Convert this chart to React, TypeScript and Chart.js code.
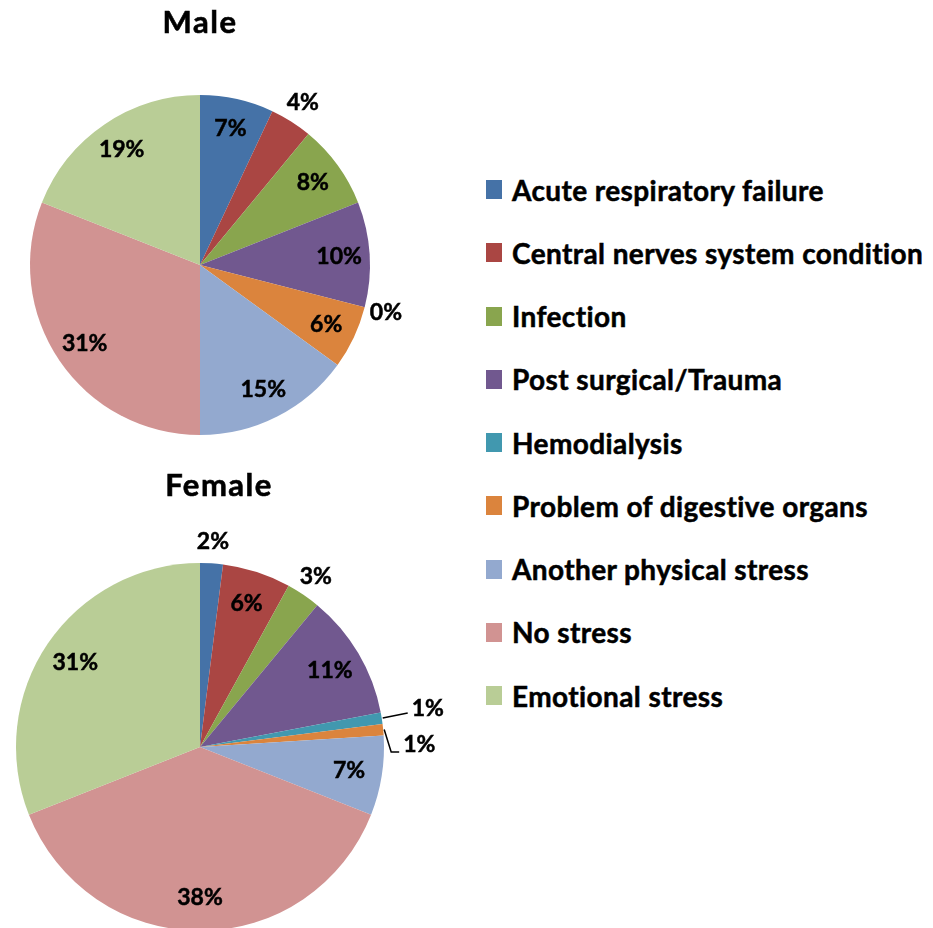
import React, { useEffect, useRef } from "react";
import { Chart, registerables } from "chart.js";

Chart.register(...registerables);

const CATEGORIES = [
  "Acute respiratory failure",
  "Central nerves system condition",
  "Infection",
  "Post surgical/Trauma",
  "Hemodialysis",
  "Problem of digestive organs",
  "Another physical stress",
  "No stress",
  "Emotional stress",
];
const MALE_VALUES = [7, 4, 8, 10, 0, 6, 15, 31, 19];
const FEMALE_VALUES = [2, 6, 3, 11, 1, 1, 7, 38, 31];
const COLORS = [
  "#4572A7",
  "#AA4643",
  "#89A54E",
  "#71588F",
  "#4198AF",
  "#DB843D",
  "#93A9CF",
  "#D19392",
  "#B9CD96",
];
const TITLES = ["Male", "Female"];

const FONT = "Lato, 'Open Sans', sans-serif";

function boldText(ctx: CanvasRenderingContext2D, text: string, x: number, y: number) {
  ctx.strokeText(text, x, y);
  ctx.fillText(text, x, y);
}

const pieTitlePlugin = {
  id: "pieTitle",
  afterDraw(chart: any, _args: any, opts: any) {
    const ctx = chart.ctx;
    const ca = chart.chartArea;
    ctx.save();
    ctx.font = `bold ${opts.fontSize}px ${FONT}`;
    (ctx as any).letterSpacing = `${opts.letterSpacing}px`;
    ctx.fillStyle = "#000";
    ctx.strokeStyle = "#000";
    ctx.lineWidth = 0.6;
    ctx.textAlign = "center";
    ctx.textBaseline = "middle";
    boldText(ctx, opts.text, (ca.left + ca.right) / 2 + opts.offsetX, opts.y);
    ctx.restore();
  },
};

const pieLabelPlugin = {
  id: "pieLabels",
  afterDatasetsDraw(chart: any, _args: any, opts: any) {
    const ctx = chart.ctx;
    const meta = chart.getDatasetMeta(0);
    const data = chart.data.datasets[0].data as number[];
    ctx.save();
    ctx.font = `bold ${opts.fontSize}px ${FONT}`;
    ctx.fillStyle = "#000";
    ctx.strokeStyle = "#000";
    ctx.textBaseline = "middle";
    let lastLeaderY = -Infinity;
    meta.data.forEach((arc: any, i: number) => {
      const v = data[i];
      const { x, y, startAngle, endAngle, outerRadius } = arc.getProps(
        ["x", "y", "startAngle", "endAngle", "outerRadius"],
        true
      );
      const mid = (startAngle + endAngle) / 2;
      const c = Math.cos(mid);
      const s = Math.sin(mid);
      const text = `${v}%`;
      ctx.lineWidth = 0.5;
      if (v >= 5) {
        const r = outerRadius * 0.82;
        ctx.textAlign = "center";
        boldText(ctx, text, x + c * r, y + s * r);
      } else if (v === 0 || v >= 2) {
        const r = outerRadius + 22;
        ctx.textAlign = "center";
        boldText(ctx, text, x + c * r, y + s * r);
      } else {
        const ex = x + c * (outerRadius + 1);
        const ey = y + s * (outerRadius + 1);
        let ly = ey - 9;
        let lx = ex + 29;
        let pushed = false;
        if (ly < lastLeaderY + 36) {
          ly = lastLeaderY + 36;
          lx = ex + 19;
          pushed = true;
        }
        lastLeaderY = ly;
        ctx.lineWidth = 1.5;
        ctx.beginPath();
        ctx.moveTo(ex, ey);
        if (pushed) {
          ctx.lineTo(lx - 12, ly + 7);
          ctx.lineTo(lx - 4, ly + 7);
        } else {
          ctx.lineTo(lx - 4, ly + 4);
        }
        ctx.stroke();
        ctx.lineWidth = 0.5;
        ctx.textAlign = "left";
        boldText(ctx, text, lx, ly);
      }
    });
    ctx.restore();
  },
};

function PieChart(props: {
  values: number[];
  title: string;
  titleY: number;
  titleOffsetX: number;
  padding: { left: number; top: number; right: number; bottom: number };
  width: number;
  height: number;
  style: React.CSSProperties;
}) {
  const ref = useRef<HTMLCanvasElement | null>(null);
  useEffect(() => {
    if (!ref.current) return;
    const chart = new Chart(ref.current, {
      type: "pie",
      data: {
        labels: CATEGORIES,
        datasets: [
          {
            data: props.values,
            backgroundColor: COLORS,
            borderWidth: 0,
          },
        ],
      },
      options: {
        animation: false,
        responsive: false,
        events: [],
        layout: { padding: props.padding },
        plugins: {
          legend: { display: false },
          tooltip: { enabled: false },
          title: { display: false },
          pieTitle: {
            text: props.title,
            fontSize: 31,
            letterSpacing: 1.5,
            y: props.titleY,
            offsetX: props.titleOffsetX,
          },
          pieLabels: { fontSize: 23 },
        } as any,
      },
      plugins: [pieLabelPlugin, pieTitlePlugin],
    });
    return () => chart.destroy();
  }, []);
  return (
    <canvas
      ref={ref}
      width={props.width}
      height={props.height}
      style={{ position: "absolute", ...props.style }}
    />
  );
}

export default function App() {
  return (
    <div
      style={{
        position: "absolute",
        left: 0,
        top: 0,
        width: 933,
        height: 928,
        overflow: "hidden",
        background: "#fff",
      }}
    >
      <PieChart
        values={MALE_VALUES}
        title={TITLES[0]}
        titleY={23}
        titleOffsetX={0}
        padding={{ left: 30, top: 95, right: 100, bottom: 35 }}
        width={470}
        height={470}
        style={{ left: 0, top: 0 }}
      />
      <PieChart
        values={FEMALE_VALUES}
        title={TITLES[1]}
        titleY={26}
        titleOffsetX={19}
        padding={{ left: 16, top: 103, right: 86, bottom: 9 }}
        width={470}
        height={480}
        style={{ left: 0, top: 460 }}
      />
      <div
        style={{
          position: "absolute",
          left: 486,
          top: 158,
          fontFamily: FONT,
          fontWeight: 700,
          fontSize: 28,
          letterSpacing: 0.4,
          WebkitTextStroke: "0.5px #000",
          color: "#000",
        }}
      >
        {CATEGORIES.map((name, i) => (
          <div
            key={name}
            style={{
              display: "flex",
              alignItems: "center",
              height: 63.25,
              whiteSpace: "nowrap",
            }}
          >
            <span
              style={{
                display: "inline-block",
                width: 16,
                height: 19,
                background: COLORS[i],
                marginRight: 10,
                flexShrink: 0,
              }}
            />
            <span>{name}</span>
          </div>
        ))}
      </div>
    </div>
  );
}
